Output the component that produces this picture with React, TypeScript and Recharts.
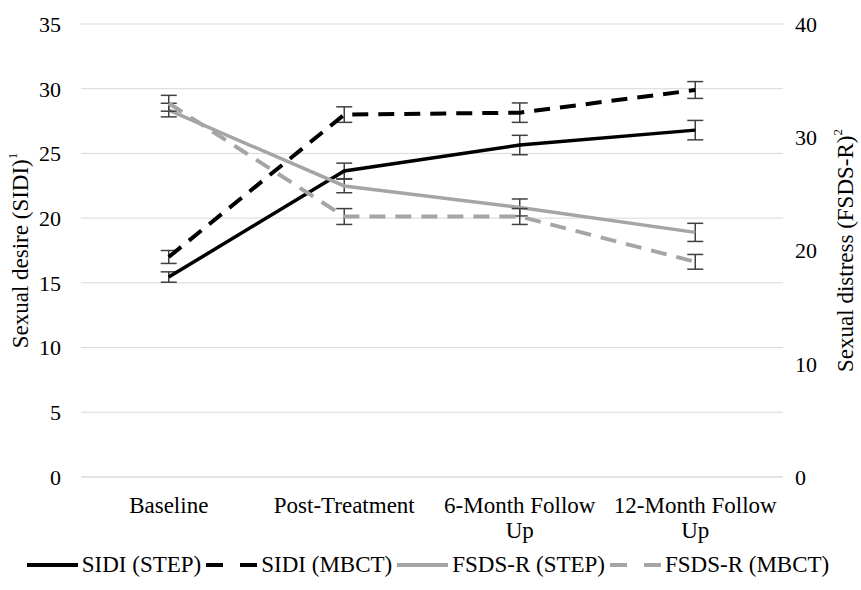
import React from "react";
import {
  LineChart,
  Line,
  XAxis,
  YAxis,
  CartesianGrid,
  ErrorBar,
  Legend,
} from "recharts";

const FONT = "'Liberation Serif', 'DejaVu Serif', serif";
const BLACK = "#000000";
const GRAY = "#a5a5a5";
const ERR = "#404040";

const categories = ["Baseline", "Post-Treatment", "6-Month Follow Up", "12-Month Follow Up"];

const sidiStep = [15.45, 23.65, 25.65, 26.8];
const sidiStepErr = [0.4, 0.6, 0.75, 0.75];
const sidiMbct = [17.0, 28.0, 28.15, 29.9];
const sidiMbctErr = [0.5, 0.6, 0.75, 0.65];

const fsdsStep = [32.4, 25.7, 23.8, 21.6];
const fsdsStepErr = [0.6, 0.6, 0.75, 0.8];
const fsdsMbct = [33.0, 23.0, 23.0, 19.0];
const fsdsMbctErr = [0.7, 0.7, 0.7, 0.65];

const leftTicks = [0, 5, 10, 15, 20, 25, 30, 35];
const rightTicks = [0, 10, 20, 30, 40];

const data = categories.map((name, i) => ({
  name,
  sidiStep: sidiStep[i],
  sidiStepErr: sidiStepErr[i],
  sidiMbct: sidiMbct[i],
  sidiMbctErr: sidiMbctErr[i],
  fsdsStep: fsdsStep[i],
  fsdsStepErr: fsdsStepErr[i],
  fsdsMbct: fsdsMbct[i],
  fsdsMbctErr: fsdsMbctErr[i],
}));

const legendItems = [
  { label: "SIDI (STEP)", color: BLACK, dashed: false },
  { label: "SIDI (MBCT)", color: BLACK, dashed: true },
  { label: "FSDS-R (STEP)", color: GRAY, dashed: false },
  { label: "FSDS-R (MBCT)", color: GRAY, dashed: true },
];

function wrapLabel(text: string, maxChars: number) {
  const words = text.split(" ");
  const lines: string[] = [];
  let cur = "";
  for (const w of words) {
    const next = cur ? cur + " " + w : w;
    if (next.length > maxChars && cur) {
      lines.push(cur);
      cur = w;
    } else {
      cur = next;
    }
  }
  if (cur) lines.push(cur);
  return lines;
}

function CategoryTick(props: any) {
  const { x, y, payload } = props;
  const lines = wrapLabel(String(payload.value), 15);
  return (
    <text x={x} y={y} textAnchor="middle" fontSize={23} style={{ fontFamily: FONT }} fill={BLACK}>
      {lines.map((l, i) => (
        <tspan key={i} x={x} dy={i === 0 ? 36 : 25}>
          {l}
        </tspan>
      ))}
    </text>
  );
}

function AxisTitle(props: any) {
  const { viewBox, main, sup, side } = props;
  const vb = viewBox || { x: 0, y: 24, width: 81, height: 453 };
  const cx = side === "left" ? vb.x + 20 : vb.x + 62;
  const cy = vb.y + vb.height / 2;
  return (
    <text
      x={cx}
      y={cy}
      transform={`rotate(-90 ${cx} ${cy})`}
      textAnchor="middle"
      dominantBaseline="central"
      fontSize={23}
      style={{ fontFamily: FONT }}
      fill={BLACK}
    >
      {main}
      <tspan fontSize={13} dy={-8}>
        {sup}
      </tspan>
    </text>
  );
}

function LegendContent() {
  return (
    <div
      style={{
        height: 50,
        display: "flex",
        alignItems: "center",
        justifyContent: "center",
        fontFamily: FONT,
        fontSize: 23,
        color: BLACK,
        whiteSpace: "nowrap",
      }}
    >
      {legendItems.map((it) => (
        <span key={it.label} style={{ display: "inline-flex", alignItems: "center", marginRight: 5 }}>
          <svg width={51} height={10} style={{ marginRight: 4 }}>
            <line
              x1={0}
              y1={5}
              x2={51}
              y2={5}
              stroke={it.color}
              strokeWidth={4}
              strokeDasharray={it.dashed ? "17 17" : undefined}
            />
          </svg>
          <span>{it.label}</span>
        </span>
      ))}
    </div>
  );
}

export default function App() {
  return (
    <div style={{ position: "absolute", left: 0, top: 0, background: "#fff", fontFamily: FONT }}>
      <LineChart width={861} height={590} data={data} margin={{ top: 24, right: 0, bottom: 0, left: 0 }}>
        <CartesianGrid yAxisId="left" vertical={false} stroke="#d9d9d9" strokeWidth={1} />
        <XAxis
          dataKey="name"
          height={63}
          padding={{ left: 87.75, right: 87.75 }}
          axisLine={{ stroke: "#d9d9d9" }}
          tickLine={false}
          tickSize={0}
          tickMargin={0}
          interval={0}
          tick={<CategoryTick />}
        />
        <YAxis
          yAxisId="left"
          width={81}
          domain={[0, 35]}
          ticks={leftTicks}
          axisLine={false}
          tickLine={false}
          tickSize={0}
          tickMargin={20}
          tick={{ fill: BLACK, fontSize: 22, style: { fontFamily: FONT } }}
          label={<AxisTitle main="Sexual desire (SIDI)" sup="1" side="left" />}
        />
        <YAxis
          yAxisId="right"
          orientation="right"
          width={78}
          domain={[0, 40]}
          ticks={rightTicks}
          axisLine={false}
          tickLine={false}
          tickSize={0}
          tickMargin={12}
          tick={{ fill: BLACK, fontSize: 22, style: { fontFamily: FONT }, textAnchor: "start" }}
          label={<AxisTitle main="Sexual distress (FSDS-R)" sup="2" side="right" />}
        />
        <Legend verticalAlign="bottom" content={<LegendContent />} />
        <Line
          yAxisId="left"
          dataKey="sidiStep"
          stroke={BLACK}
          strokeWidth={3.5}
          dot={false}
          isAnimationActive={false}
        >
          <ErrorBar dataKey="sidiStepErr" width={8} stroke={ERR} strokeWidth={1.5} isAnimationActive={false} />
        </Line>
        <Line
          yAxisId="left"
          dataKey="sidiMbct"
          stroke={BLACK}
          strokeWidth={4}
          strokeDasharray="16 10"
          dot={false}
          isAnimationActive={false}
        >
          <ErrorBar dataKey="sidiMbctErr" width={8} stroke={ERR} strokeWidth={1.5} isAnimationActive={false} />
        </Line>
        <Line
          yAxisId="right"
          dataKey="fsdsStep"
          stroke={GRAY}
          strokeWidth={3.5}
          dot={false}
          isAnimationActive={false}
        >
          <ErrorBar dataKey="fsdsStepErr" width={8} stroke={ERR} strokeWidth={1.5} isAnimationActive={false} />
        </Line>
        <Line
          yAxisId="right"
          dataKey="fsdsMbct"
          stroke={GRAY}
          strokeWidth={4}
          strokeDasharray="16 10"
          dot={false}
          isAnimationActive={false}
        >
          <ErrorBar dataKey="fsdsMbctErr" width={8} stroke={ERR} strokeWidth={1.5} isAnimationActive={false} />
        </Line>
      </LineChart>
    </div>
  );
}
